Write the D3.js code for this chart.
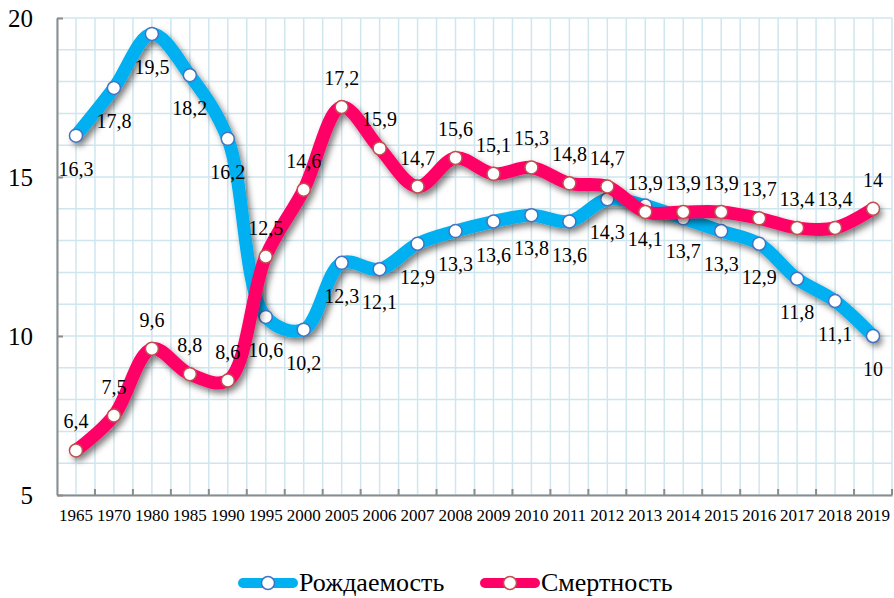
<!DOCTYPE html>
<html>
<head>
<meta charset="utf-8">
<script src="https://cdn.jsdelivr.net/npm/d3@7"></script>
<style>
  body { margin: 0; background: #fff; }
  svg text { font-family: 'Liberation Serif', 'DejaVu Serif', serif; fill: #000; }
</style>
</head>
<body>
<div id="chart"></div>
<script>
// data
const years = ['1965','1970','1980','1985','1990','1995','2000','2005','2006','2007','2008','2009','2010','2011','2012','2013','2014','2015','2016','2017','2018','2019']
const births = [16.3,17.8,19.5,18.2,16.2,10.6,10.2,12.3,12.1,12.9,13.3,13.6,13.8,13.6,14.3,14.1,13.7,13.3,12.9,11.8,11.1,10]
const deaths = [6.4,7.5,9.6,8.8,8.6,12.5,14.6,17.2,15.9,14.7,15.6,15.1,15.3,14.8,14.7,13.9,13.9,13.9,13.7,13.4,13.4,14]
const yTicks = [5,10,15,20]
const seriesNames = ['Рождаемость', 'Смертность']

const width = 894, height = 598
const plotLeft = 57, plotRight = 892, plotTop = 18, plotBottom = 495
const serif = "'Liberation Serif', 'DejaVu Serif', serif"

const svg = d3.select('#chart').append('svg')
  .attr('width', width)
  .attr('height', height)
  .attr('font-family', serif)

const defs = svg.append('defs')
defs.append('filter')
  .attr('id', 'shadow')
  .attr('x', '-10%').attr('y', '-10%')
  .attr('width', '120%').attr('height', '130%')
  .append('feDropShadow')
  .attr('dx', 3).attr('dy', 4)
  .attr('stdDeviation', 3)
  .attr('flood-color', '#000')
  .attr('flood-opacity', 0.5)

const x = d3.scaleBand().domain(years).range([plotLeft, plotRight])
const y = d3.scaleLinear().domain([5, 20]).range([plotBottom, plotTop])
const cx = d => x(d) + x.bandwidth() / 2

// graph paper grid
const grid = svg.append('g').attr('stroke', '#cfe6ef').attr('stroke-width', 1.5)
d3.range(5, 21).forEach(v => {
  grid.append('line').attr('x1', plotLeft).attr('x2', plotRight).attr('y1', y(v)).attr('y2', y(v))
})
const halfBand = x.bandwidth() / 2
d3.range(0, years.length * 2 + 1).forEach(i => {
  const gx = plotLeft + i * halfBand
  grid.append('line').attr('x1', gx).attr('x2', gx).attr('y1', plotTop).attr('y2', plotBottom)
})

// y axis
const yAxis = svg.append('g')
  .attr('transform', `translate(${plotLeft},0)`)
  .call(d3.axisLeft(y).tickValues(yTicks).tickSizeInner(-6).tickSizeOuter(0).tickPadding(24))
yAxis.attr('font-family', serif).attr('font-size', 25)
yAxis.select('.domain').attr('stroke', '#8c8c8c').attr('stroke-width', 2)
yAxis.selectAll('.tick line').attr('stroke', '#8c8c8c').attr('stroke-width', 2)

// x axis
const xAxis = svg.append('g')
  .attr('transform', `translate(0,${plotBottom})`)
  .call(d3.axisBottom(x).tickSize(0).tickPadding(14))
xAxis.attr('font-family', serif).attr('font-size', 17)
xAxis.select('.domain').attr('stroke', '#8c8c8c').attr('stroke-width', 2)
xAxis.selectAll('.tick text').attr('dy', '0.71em')
xAxis.selectAll('.bt')
  .data(years.slice(1).concat(['end']))
  .enter()
  .append('line')
  .attr('x1', d => d === 'end' ? plotRight : x(d))
  .attr('x2', d => d === 'end' ? plotRight : x(d))
  .attr('y1', 0)
  .attr('y2', -6)
  .attr('stroke', '#8c8c8c')
  .attr('stroke-width', 2)

const line = d3.line()
  .x((d, i) => cx(years[i]))
  .y(d => y(d))
  .curve(d3.curveCatmullRom.alpha(0.5))

const series = [
  { name: seriesNames[0], values: births, color: '#00b0f0', ring: '#4472c4', dy: 40 },
  { name: seriesNames[1], values: deaths, color: '#ff0066', ring: '#c0504d', dy: -22 }
]

series.forEach(s => {
  const g = svg.append('g')
  g.append('path')
    .datum(s.values)
    .attr('d', line)
    .attr('fill', 'none')
    .attr('stroke', s.color)
    .attr('stroke-width', 13)
    .attr('stroke-linecap', 'round')
    .attr('filter', 'url(#shadow)')
  g.selectAll('circle')
    .data(s.values)
    .enter()
    .append('circle')
    .attr('cx', (d, i) => cx(years[i]))
    .attr('cy', d => y(d))
    .attr('r', 6.5)
    .attr('fill', '#fff')
    .attr('stroke', s.ring)
    .attr('stroke-width', 1.5)
})

// value labels
series.forEach(s => {
  svg.append('g').selectAll('text')
    .data(s.values)
    .enter()
    .append('text')
    .attr('x', (d, i) => cx(years[i]))
    .attr('y', d => y(d) + s.dy)
    .attr('text-anchor', 'middle')
    .attr('font-size', 20)
    .text(d => String(d).replace('.', ','))
})

// legend
const legend = svg.append('g')
const legendX = [238, 480]
series.forEach((s, i) => {
  const lx = legendX[i], ly = 583
  legend.append('line')
    .attr('x1', lx + 5).attr('x2', lx + 55)
    .attr('y1', ly).attr('y2', ly)
    .attr('stroke', s.color)
    .attr('stroke-width', 10)
    .attr('stroke-linecap', 'round')
  legend.append('circle')
    .attr('cx', lx + 30).attr('cy', ly)
    .attr('r', 6.5)
    .attr('fill', '#fff')
    .attr('stroke', s.ring)
    .attr('stroke-width', 1.5)
  legend.append('text')
    .attr('x', lx + 61)
    .attr('y', ly + 8)
    .attr('font-size', 26)
    .text(s.name)
})
</script>
</body>
</html>
